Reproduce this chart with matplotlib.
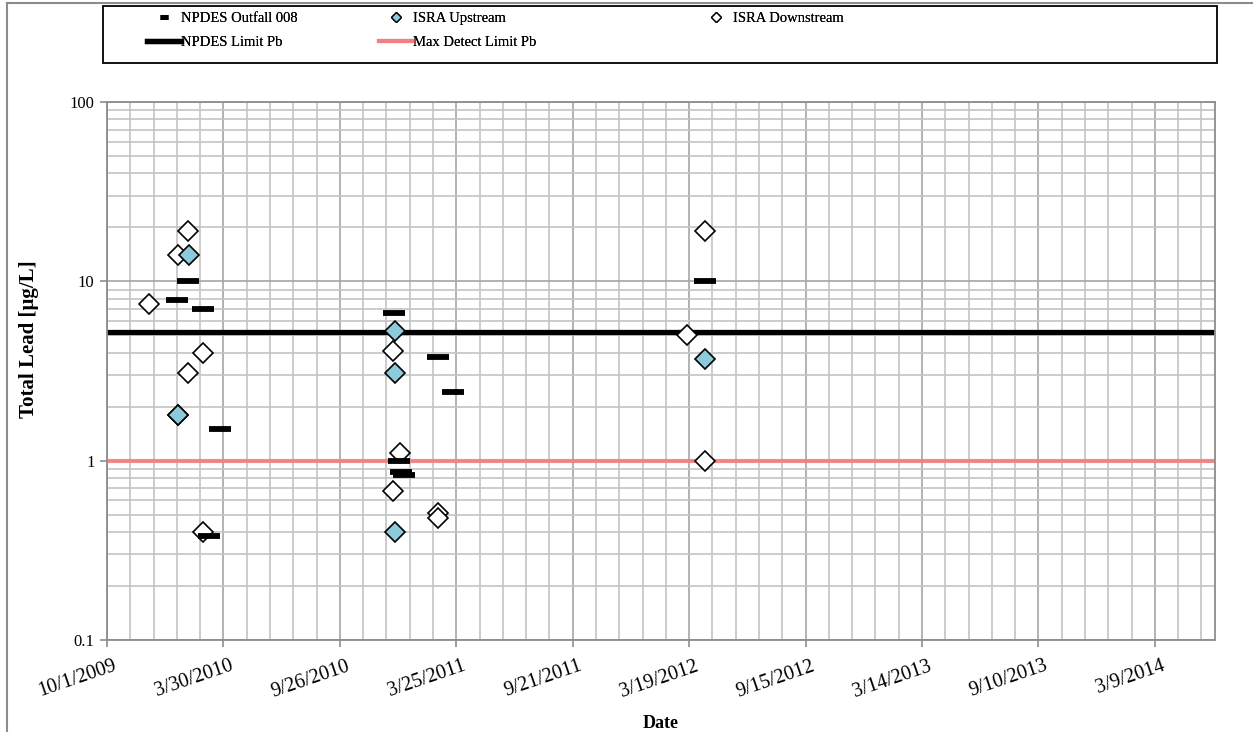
import datetime as dt
import matplotlib
matplotlib.use("Agg")
import matplotlib.pyplot as plt
import matplotlib.dates as mdates
import matplotlib.transforms as mtrans
from matplotlib.lines import Line2D
from matplotlib.ticker import FixedLocator, FuncFormatter, LogLocator, NullFormatter

plt.rcParams['font.family'] = ['Liberation Serif', 'DejaVu Serif']
plt.rcParams['font.size'] = 10.5

# sample data
outfall_dates = ['2010-01-17', '2010-02-04', '2010-02-27', '2010-03-25', '2010-03-07',
                 '2010-12-18', '2010-12-26', '2010-12-30', '2011-01-03', '2011-02-25',
                 '2011-03-20', '2012-04-13']
outfall_vals = [7.9, 10, 7.0, 1.5, 0.38, 6.7, 1.0, 0.87, 0.83, 3.8, 2.4, 10]

up_dates = ['2010-01-19', '2010-02-05', '2010-12-21', '2010-12-21', '2010-12-21', '2012-04-12']
up_vals = [1.8, 14, 5.3, 3.1, 0.40, 3.7]

down_dates = ['2009-12-05', '2010-01-18', '2010-01-19', '2010-02-04', '2010-02-26',
              '2010-02-04', '2010-02-26', '2010-12-17', '2010-12-28', '2010-12-17',
              '2011-02-25', '2011-02-25', '2012-03-16', '2012-04-12', '2012-04-12']
down_vals = [7.5, 14, 1.8, 19, 4.0, 3.1, 0.40, 4.1, 1.1, 0.68, 0.51, 0.48, 5.0, 19, 1.0]

npdes_limit = 5.2
detect_limit = 1.0

x_start = dt.date(2009, 10, 1)
x_end = dt.date(2014, 6, 10)
major_step = 180
minor_step = 36


def to_num(dates):
    return [mdates.date2num(dt.date.fromisoformat(d)) for d in dates]


def date_label(x, pos):
    d = mdates.num2date(x)
    return f'{d.month}/{d.day}/{d.year}'


fig = plt.figure(figsize=(12.53, 7.32), dpi=100)
W, H = 1253, 732
ax = fig.add_axes([107 / W, 1 - 640 / H, (1215 - 107) / W, (640 - 102) / H])

ax.axhline(npdes_limit, color='black', lw=3.8, zorder=2)
ax.axhline(detect_limit, color='#F47F80', lw=3.0, alpha=0.9, zorder=2)

ax.plot(to_num(down_dates), down_vals, ls='none', marker='D', ms=10, mfc='white',
        mec='black', mew=1.2, zorder=3)
ax.plot(to_num(up_dates), up_vals, ls='none', marker='D', ms=10, mfc='#8CCBDB',
        mec='black', mew=1.2, zorder=4)
ax.plot(to_num(outfall_dates), outfall_vals, ls='none', marker='_', ms=16.5,
        mec='black', mew=4.2, zorder=5)

ax.set_yscale('log')
ax.set_ylim(0.1, 100)
ax.yaxis.set_major_locator(FixedLocator([0.1, 1, 10, 100]))
ax.yaxis.set_major_formatter(FuncFormatter(lambda v, p: f'{v:g}'))
ax.yaxis.set_minor_locator(LogLocator(base=10, subs=range(2, 10)))
ax.yaxis.set_minor_formatter(NullFormatter())

x0 = mdates.date2num(x_start)
x1 = mdates.date2num(x_end)
ax.set_xlim(x0, x1)
majors = [x0 + major_step * k for k in range(10)]
minors = [x0 + minor_step * k for k in range(int((x1 - x0) // minor_step) + 1)]
ax.xaxis.set_major_locator(FixedLocator(majors))
ax.xaxis.set_minor_locator(FixedLocator(minors))
ax.xaxis.set_major_formatter(FuncFormatter(date_label))

ax.grid(True, which='major', color='#A6A6A6', lw=1.2, zorder=0)
ax.grid(True, which='minor', color='#C4C4C4', lw=1.2, zorder=0)
ax.set_axisbelow(True)
for s in ax.spines.values():
    s.set_color('#8C8C8C')
    s.set_linewidth(1.3)
ax.tick_params(which='major', length=5, color='#8C8C8C', width=1.2)
ax.tick_params(which='minor', length=0)
ax.tick_params(axis='y', labelsize=12, pad=4)
ax.tick_params(axis='x', labelsize=14.5, pad=7)
shift = mtrans.ScaledTranslation(6 / 100, 0, fig.dpi_scale_trans)
for lbl in ax.get_xticklabels():
    lbl.set_rotation(19)
    lbl.set_ha('right')
    lbl.set_rotation_mode('anchor')
    lbl.set_transform(lbl.get_transform() + shift)

ax.set_xlabel('Date', fontweight='bold', fontsize=13, labelpad=10)
ax.set_ylabel('Total Lead [\u03bcg/L]', fontweight='bold', fontsize=15)
ax.yaxis.set_label_coords(-0.061, 0.56)

# legend: three columns inside one box
h_out = Line2D([], [], ls='none', marker='_', ms=6, mew=3.5, mec='black')
h_up = Line2D([], [], ls='none', marker='D', ms=5, mfc='#8CCBDB', mec='black', mew=1)
h_down = Line2D([], [], ls='none', marker='D', ms=5, mfc='white', mec='black', mew=1)
h_lim1 = Line2D([], [], color='black', lw=3.8)
h_lim2 = Line2D([], [], color='#F47F80', lw=3.0)

columns = [
    ([h_out, h_lim1], ['NPDES Outfall 008', 'NPDES Limit Pb'], 147),
    ([h_up, h_lim2], ['ISRA Upstream', 'Max Detect Limit Pb'], 379),
    ([h_down], ['ISRA Downstream'], 699),
]
for handles, labels, xpx in columns:
    leg = fig.legend(handles, labels, loc='upper left', bbox_to_anchor=(xpx / W, 1 - 12 / H),
                     frameon=False, handlelength=2.3, handletextpad=0.02,
                     borderpad=0, borderaxespad=0, labelspacing=0.72)
    fig.add_artist(leg)

fig.add_artist(plt.Rectangle((103 / W, 1 - 63 / H), (1217 - 103) / W, (63 - 6) / H,
                             fill=False, ec='black', lw=1.3, transform=fig.transFigure))
# outer chart-area border (runs off the right and bottom edges)
fig.add_artist(Line2D([7 / W, 7 / W], [0, 1 - 3 / H], color='#8C8C8C', lw=1.5))
fig.add_artist(Line2D([7 / W, 1], [1 - 3 / H, 1 - 3 / H], color='#8C8C8C', lw=1.5))

fig.savefig('out.png', dpi=100)
